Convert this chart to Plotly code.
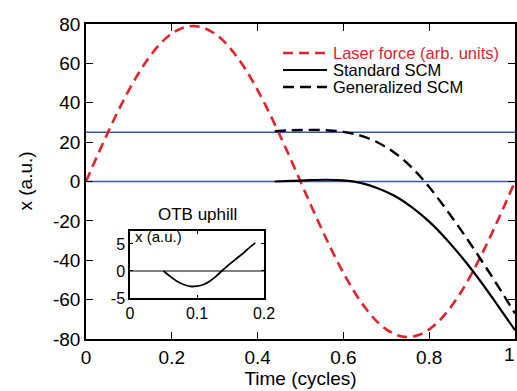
import plotly.graph_objects as go

# ---------------- data ----------------
laser_t = [0.0, 0.025, 0.05, 0.075, 0.1, 0.125, 0.15, 0.175, 0.2, 0.225, 0.25,
           0.275, 0.3, 0.325, 0.35, 0.375, 0.4, 0.425, 0.45, 0.475, 0.5,
           0.525, 0.55, 0.575, 0.6, 0.625, 0.65, 0.675, 0.7, 0.725, 0.75,
           0.775, 0.8, 0.825, 0.85, 0.875, 0.9, 0.925, 0.95, 0.975, 1.0]
laser_force = [0.0, 12.4, 24.4, 35.9, 46.4, 55.9, 63.9, 70.4, 75.1, 78.0, 79.0,
               78.0, 75.1, 70.4, 63.9, 55.9, 46.4, 35.9, 24.4, 12.4, 0.0,
               -12.4, -24.4, -35.9, -46.4, -55.9, -63.9, -70.4, -75.1, -78.0, -79.0,
               -78.0, -75.1, -70.4, -63.9, -55.9, -46.4, -35.9, -24.4, -12.4, 0.0]

scm_t = [0.44, 0.48, 0.52, 0.56, 0.60, 0.64, 0.68, 0.72, 0.76, 0.80, 0.84, 0.88, 0.92, 0.96, 1.0]
standard_scm = [0.0, 0.3, 0.7, 0.9, 0.6, -0.7, -3.4, -7.4, -13.1, -20.4, -29.3, -39.5, -50.8, -63.0, -75.5]
generalized_scm = [25.6, 26.0, 26.2, 26.0, 25.2, 23.3, 19.8, 14.5, 7.0, -2.8, -14.3, -26.5, -39.5, -53.0, -67.0]

ref_levels = [0, 25]

inset_t = [0.05, 0.06, 0.07, 0.08, 0.09, 0.10, 0.11, 0.12, 0.13, 0.137, 0.15, 0.16, 0.17, 0.18, 0.187]
inset_x = [0.0, -1.0, -1.9, -2.5, -2.85, -2.8, -2.5, -1.8, -0.8, 0.0, 1.4, 2.4, 3.4, 4.5, 5.2]

x_ticks = [0, 0.2, 0.4, 0.6, 0.8, 1.0]
x_ticklabels = ["0", "0.2", "0.4", "0.6", "0.8", "1"]
y_ticks = [-80, -60, -40, -20, 0, 20, 40, 60, 80]
y_ticklabels = ["-80", "-60", "-40", "-20", "0", "20", "40", "60", "80"]
inset_xticks = [0, 0.1, 0.2]
inset_xticklabels = ["0", "0.1", "0.2"]
inset_yticks = [-5, 0, 5]
inset_yticklabels = ["-5", "0", "5"]

legend_names = ["Laser force (arb. units)", "Standard SCM", "Generalized SCM"]

RED = "#e3222b"
BLUE = "#3b55b2"
FONT = "Liberation Sans, Arial, Helvetica, sans-serif"

fig = go.Figure()

# blue reference lines
for lv in ref_levels:
    fig.add_hline(y=lv, line=dict(color=BLUE, width=1.4), layer="below")

fig.add_trace(go.Scatter(x=laser_t, y=laser_force, mode="lines", line_shape="spline",
                         line=dict(color=RED, width=2.6, dash="10px,6px"), showlegend=False))
fig.add_trace(go.Scatter(x=scm_t, y=standard_scm, mode="lines", line_shape="spline",
                         line=dict(color="black", width=2.2), showlegend=False))
fig.add_trace(go.Scatter(x=scm_t, y=generalized_scm, mode="lines", line_shape="spline",
                         line=dict(color="black", width=2.4, dash="11px,6px"), showlegend=False))

# inset
fig.add_trace(go.Scatter(x=[0, 0.2], y=[0, 0], mode="lines", xaxis="x2", yaxis="y2",
                         line=dict(color="black", width=1.2), showlegend=False))
fig.add_trace(go.Scatter(x=inset_t, y=inset_x, mode="lines", line_shape="spline", xaxis="x2", yaxis="y2",
                         line=dict(color="black", width=1.8), showlegend=False))

# plot area pixel geometry
L, R, T, B = 86, 515, 24, 339
W, H = 517, 391
def px(xp):
    return (xp - L) / (R - L)
def py(yp):
    return (B - yp) / (B - T)

axis_common = dict(showline=True, linecolor="black", linewidth=1.5, mirror="ticks", automargin=False,
                   ticks="inside", tickcolor="black", tickwidth=1, showgrid=False, zeroline=False)

# last x tick label drawn as an edge-anchored annotation so it stays inside the page
main_xticktext = x_ticklabels[:-1] + [""]

fig.update_layout(
    width=W, height=H, autosize=False,
    margin=dict(l=L, r=W - R, t=T, b=H - B),
    paper_bgcolor="white", plot_bgcolor="white",
    font=dict(family=FONT, color="black", size=18),
    xaxis=dict(range=[0, 1], tickvals=x_ticks, ticktext=main_xticktext, ticklen=7,
               tickfont=dict(size=19), title=dict(text="Time (cycles)", font=dict(size=19), standoff=4),
               **axis_common),
    yaxis=dict(range=[-80, 80], tickvals=y_ticks, ticktext=y_ticklabels, ticklen=7,
               tickfont=dict(size=19), **axis_common),
    xaxis2=dict(domain=[px(130), px(264)], anchor="y2", range=[0, 0.2],
                tickvals=inset_xticks, ticktext=inset_xticklabels, ticklen=3,
                tickfont=dict(size=16), ticklabeloverflow="allow", **axis_common),
    yaxis2=dict(domain=[py(298), py(231)], anchor="x2", range=[-5, 7.4],
                tickvals=inset_yticks, ticktext=inset_yticklabels, ticklen=3,
                tickfont=dict(size=16), **axis_common),
)

fig.add_annotation(text=x_ticklabels[-1], xref="paper", yref="paper", x=1, y=0,
                   xshift=2, yshift=-3, showarrow=False, xanchor="right", yanchor="top",
                   font=dict(size=19))

# y axis title
fig.add_annotation(text="x (a.u.)", xref="paper", yref="paper", x=px(25), y=0.5,
                   textangle=-90, showarrow=False, xanchor="center", yanchor="middle",
                   font=dict(size=19))

# inset annotations
fig.add_annotation(text="OTB uphill", xref="paper", yref="paper", x=px(197), y=py(214),
                   showarrow=False, xanchor="center", yanchor="middle", font=dict(size=17))
fig.add_annotation(text="x (a.u.)", xref="paper", yref="paper", x=px(133), y=py(236),
                   showarrow=False, xanchor="left", yanchor="middle", font=dict(size=15))

# manual legend
rows = [53, 70, 87]
styles = [dict(color=RED, width=2.6, dash="10px,6px"),
          dict(color="black", width=2.2),
          dict(color="black", width=2.4, dash="11px,6px")]
text_colors = [RED, "black", "black"]
for name, ry, st, tc in zip(legend_names, rows, styles, text_colors):
    fig.add_shape(type="line", xref="paper", yref="paper", x0=px(283), x1=px(327),
                  y0=py(ry), y1=py(ry), line=st)
    fig.add_annotation(text=name, xref="paper", yref="paper", x=px(331), y=py(ry),
                       showarrow=False, xanchor="left", yanchor="middle",
                       font=dict(size=16.5, color=tc))

fig.write_html("out.html")
